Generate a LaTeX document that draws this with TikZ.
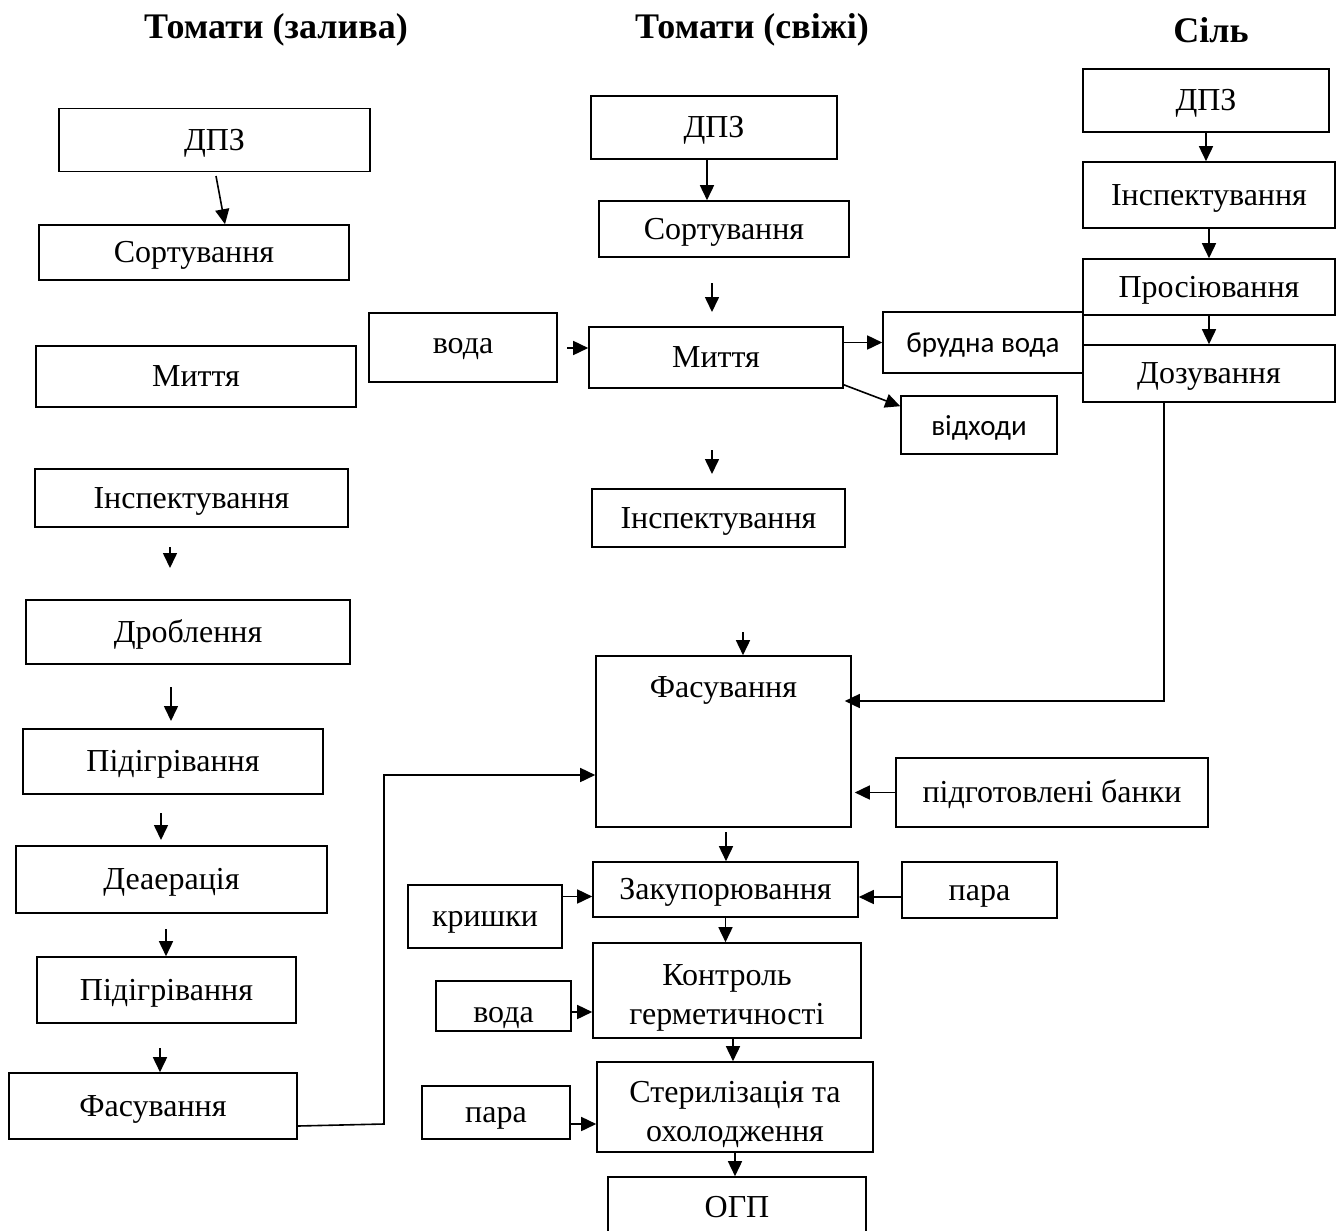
\documentclass[tikz,border=0pt]{standalone}
\usepackage{fontspec}
\setmainfont{Liberation Serif}
\newfontfamily\calibri{Carlito}
\usetikzlibrary{arrows.meta}

\begin{document}
\begin{tikzpicture}[x=1pt, y=-1pt,
  box/.style={draw, line width=1.6pt, inner sep=0pt, text height=26pt, text depth=6pt, font=\fontsize{32}{40}\selectfont},
  sz/.style 2 args={minimum width=#1pt, minimum height=#2pt},
  txt/.style={align=center, font=\fontsize{32}{39}\selectfont},
  title/.style={font=\fontsize{36}{42}\selectfont\bfseries},
  arr/.style={line width=1.6pt, -{Triangle[length=15pt,width=14pt]}}]

\useasboundingbox (0,0) rectangle (1344,1231);

% Headings
\node[title] (t1) at (276,30) {Томати (залива)};
\node[title] (t2) at (752,30) {Томати (свіжі)};
\node[title] (t3) at (1211,30) {Сіль};

% Column (A): tomatoes for the filling
\node[box, sz={311}{63}] (ldpz) at (214.5,140) {ДПЗ};
\node[box, sz={310}{55}] (lsort) at (194,252.5) {Сортування};
\node[box, sz={320}{61}] (lwash) at (196,376.5) {Миття};
\node[box, sz={313}{58}] (linsp) at (191.5,498) {Інспектування};
\node[box, sz={324}{64}] (lcrush) at (188,632) {Дроблення};
\node[box, sz={300}{65}] (lheat1) at (173,761.5) {Підігрівання};
\node[box, sz={311}{67}] (ldeaer) at (171.5,879.5) {Деаерація};
\node[box, sz={259}{66}] (lheat2) at (166.5,990) {Підігрівання};
\node[box, sz={288}{66}] (lfill) at (153,1106) {Фасування};

\coordinate (a1) at (216,176);
\coordinate (a2) at (170,547);
\coordinate (a2e) at (170,568);
\coordinate (a3) at (171,687);
\coordinate (a3e) at (171,721);
\coordinate (a4) at (161,813);
\coordinate (a4e) at (161,840);
\coordinate (a5) at (166,929);
\coordinate (a6) at (160,1048);
\draw[arr] (a1) -- ([xshift=31pt]lsort.north); % slanted one
\draw[arr] (a2) -- (a2e);
\draw[arr] (a3) -- (a3e);
\draw[arr] (a4) -- (a4e);
\draw[arr] (a5) -- (a5 |- lheat2.north);
\draw[arr] (a6) -- (a6 |- lfill.north);

% Column (B): fresh tomatoes
\node[box, sz={246}{63}] (mdpz) at (714,127.5) {ДПЗ};
\node[box, sz={250}{56}] (msort) at (724,229) {Сортування};
\node[box, sz={188}{69}, text depth=15pt] (water) at (463,347.5) {вода};
\node[box, sz={254}{61}] (mwash) at (716,357.5) {Миття};
\node[box, sz={200}{61}, font=\calibri\fontsize{29}{34}\selectfont] (dirty) at (983,342.5) {брудна вода};
\node[box, sz={156}{58}, font=\calibri\fontsize{29}{34}\selectfont] (waste) at (979,425) {відходи};
\node[box, sz={253}{58}] (minsp) at (718.5,518) {Інспектування};
\node[box, sz={255}{171}] (mfill) at (723.5,741.5) {};
\node[txt] (mfilltxt) at (723.5,690) {Фасування};
\node[box, sz={312}{69}] (banks) at (1052,792.5) {підготовлені банки};
\node[box, sz={265}{55}] (zakup) at (725.5,889.5) {Закупорювання};
\node[box, sz={154}{63}] (lids) at (485,916.5) {кришки};
\node[box, sz={155}{56}] (steam1) at (979.5,890) {пара};
\node[box, sz={268}{95}] (check) at (727,990.5) {};
\node[txt] (checktxt) at (727,998) {Контроль\\герметичності};
\node[box, sz={135}{50}, text height=32pt, text depth=0pt] (water2) at (503.5,1006) {вода};
\node[box, sz={276}{90}] (steril) at (735,1107) {};
\node[txt] (steriltxt) at (735,1114) {Стерилізація та\\охолодження};
\node[box, sz={148}{53}] (steam2) at (496,1112.5) {пара};
\node[box, sz={258}{60}] (ogp) at (737,1207) {ОГП};

\coordinate (b1) at (707,160);
\coordinate (b2) at (712,283);
\coordinate (b2e) at (712,312);
\coordinate (b3) at (567,348);
\coordinate (b4) at (712,450);
\coordinate (b4e) at (712,474);
\coordinate (b5) at (743,632);
\coordinate (b6) at (726,832);
\draw[arr] (b1) -- (b1 |- msort.north);
\draw[arr] (b2) -- (b2e);
\draw[arr] (b3) -- (b3 -| mwash.west); % water in
\draw[arr] (mwash.east |- dirty.west) -- (dirty.west);
\draw[arr] ([yshift=4pt]mwash.south east) -- ([yshift=-11pt]waste.north west);
\draw[arr] (b4) -- (b4e);
\draw[arr] (b5) -- (b5 |- mfill.north);
\draw[arr, shorten >=3pt] (banks.west) -- (banks.west -| mfill.east);
\draw[arr] (b6) -- (b6 |- zakup.north);
\draw[arr] ([yshift=20pt]lids.east) coordinate (k1) -- (k1 -| zakup.west);
\draw[arr] ([yshift=-7pt]steam1.west) coordinate (k2) -- (k2 -| zakup.east);
\draw[arr] (zakup.south) -- (zakup.south |- check.north);
\draw[arr] ([yshift=-6pt]water2.east) coordinate (k3) -- (k3 -| check.west);
\draw[arr] ([xshift=6pt]check.south) coordinate (k4) -- (k4 |- steril.north);
\draw[arr] ([yshift=-11.5pt]steam2.east) coordinate (k5) -- (k5 -| steril.west);
\draw[arr] (steril.south) -- (steril.south |- ogp.north);

% filling line from column (A)
\coordinate (lbend) at (384,1124);
\coordinate (lin) at ([yshift=-33.5pt]mfill.west);
\draw[arr] ([yshift=-20pt]lfill.east) -- (lbend) -- (lbend |- lin) -- (lin);

% Column (C): salt
\node[box, sz={246}{63}] (rdpz) at (1206,100.5) {ДПЗ};
\node[box, sz={252}{66}] (rinsp) at (1209,195) {Інспектування};
\node[box, sz={252}{56}] (rsieve) at (1209,287) {Просіювання};
\node[box, sz={252}{57}] (rdose) at (1209,373.5) {Дозування};

\draw[arr] (rdpz.south) -- (rdpz.south |- rinsp.north);
\draw[arr] (rinsp.south) -- (rsieve.north);
\draw[arr] (rsieve.south) -- (rdose.north);
\coordinate (sbend) at (1164,701);
\draw[arr, shorten >=-7pt] (sbend |- rdose.south) -- (sbend) -- (sbend -| mfill.east); % salt to filling

\end{tikzpicture}
\end{document}
